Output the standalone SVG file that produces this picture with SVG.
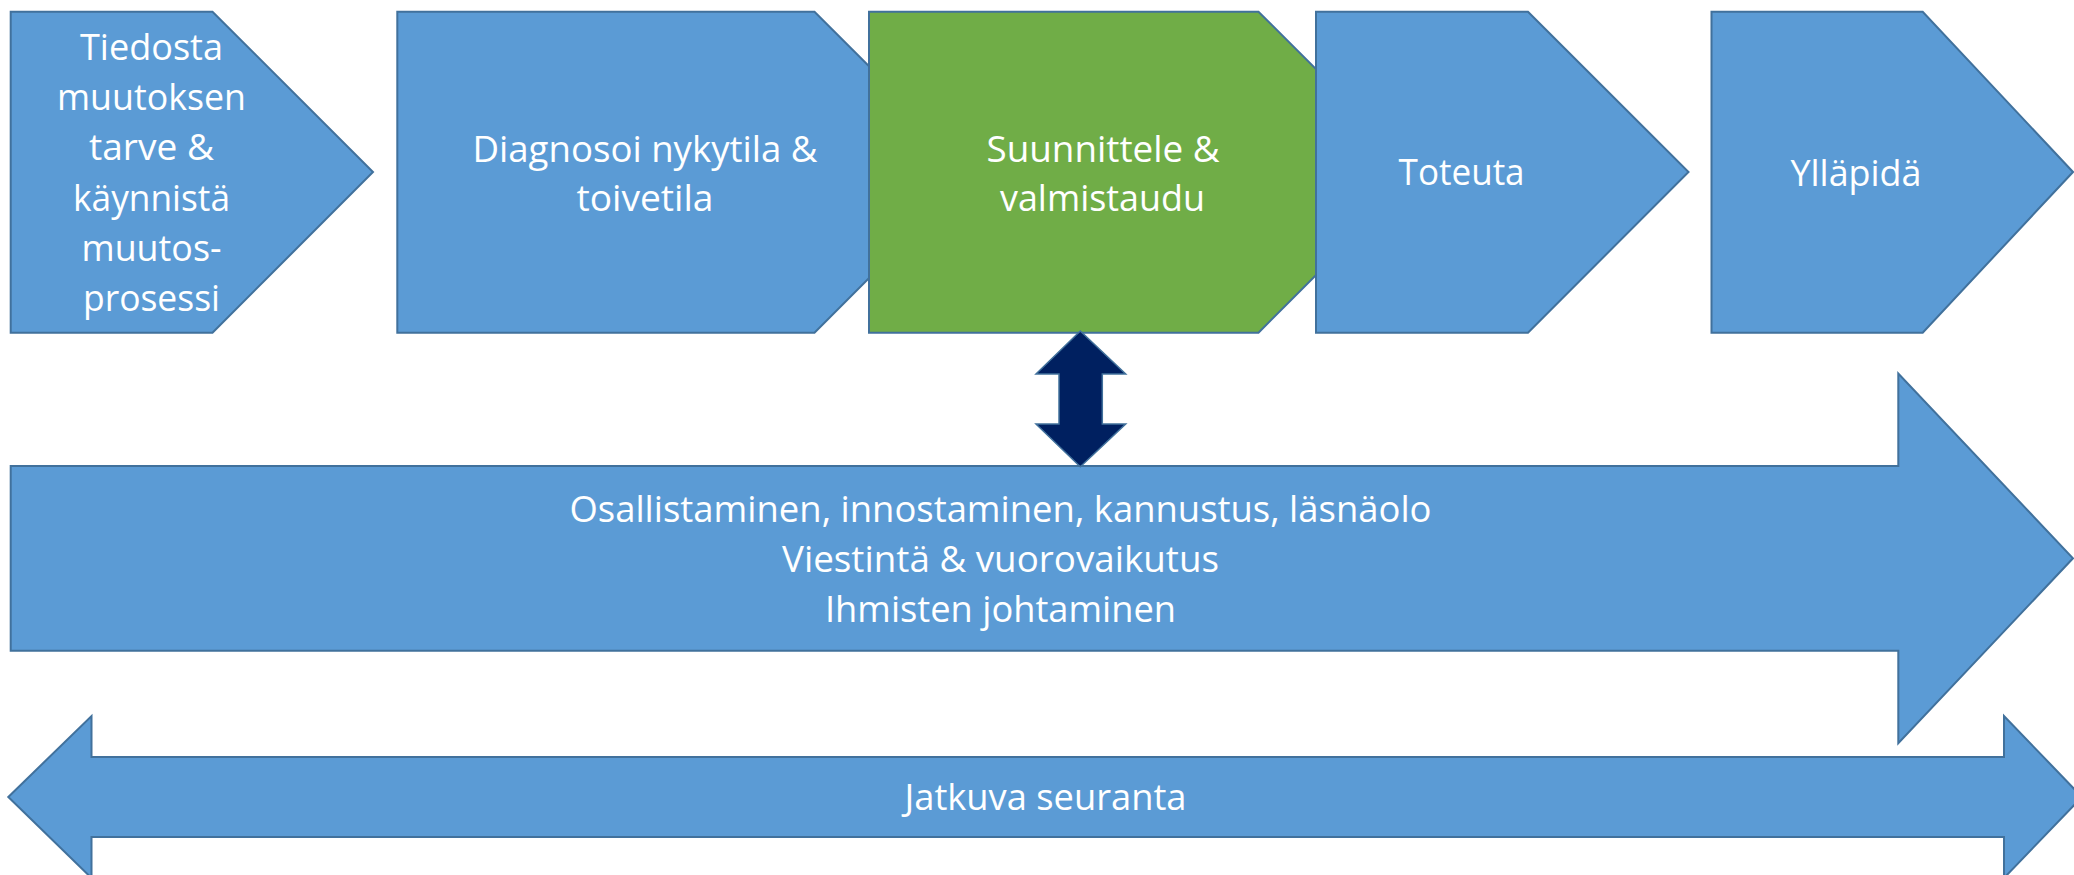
<svg xmlns="http://www.w3.org/2000/svg" width="2074" height="875" viewBox="0 0 2074 875">
<style>
.blue{fill:#5B9BD5;stroke:#41719C;stroke-width:2;stroke-linejoin:miter}
.green{fill:#70AD47;stroke:#41719C;stroke-width:2}
.navy{fill:#002060;stroke:#41719C;stroke-width:1.5}
.t{font-family:"Open Sans","Noto Sans","Liberation Sans",sans-serif;font-size:37px;fill:#FFFFFF;text-anchor:middle}
</style>
<rect x="0" y="0" width="2074" height="875" fill="#FFFFFF"/>
<g id="node-tiedosta">
<polygon class="blue" points="10.7,11.7 212.5,11.7 373,172 212.5,332.7 10.7,332.7"/>
<text class="t" x="151.5" y="60" textLength="143" lengthAdjust="spacingAndGlyphs">Tiedosta</text>
<text class="t" x="151.5" y="110.2" textLength="189" lengthAdjust="spacingAndGlyphs">muutoksen</text>
<text class="t" x="151.5" y="160.4" textLength="125" lengthAdjust="spacingAndGlyphs">tarve &amp;</text>
<text class="t" x="151.5" y="210.6" textLength="157" lengthAdjust="spacingAndGlyphs">käynnistä</text>
<text class="t" x="151.5" y="260.8" textLength="140" lengthAdjust="spacingAndGlyphs">muutos-</text>
<text class="t" x="151.5" y="311" textLength="137" lengthAdjust="spacingAndGlyphs">prosessi</text>
</g>
<g id="node-diagnosoi">
<polygon class="blue" points="397.3,11.7 814.5,11.7 975,172 814.5,332.7 397.3,332.7"/>
<text class="t" x="645" y="161.7" textLength="345" lengthAdjust="spacingAndGlyphs">Diagnosoi nykytila &amp;</text>
<text class="t" x="645" y="210.7" textLength="137" lengthAdjust="spacingAndGlyphs">toivetila</text>
</g>
<g id="node-suunnittele">
<polygon class="green" points="869,11.7 1258.5,11.7 1419,172 1258.5,332.7 869,332.7"/>
<text class="t" x="1103" y="161.7" textLength="233" lengthAdjust="spacingAndGlyphs">Suunnittele &amp;</text>
<text class="t" x="1102.5" y="210.7" textLength="205" lengthAdjust="spacingAndGlyphs">valmistaudu</text>
</g>
<g id="node-toteuta">
<polygon class="blue" points="1316,11.7 1528,11.7 1688.5,172 1528,332.7 1316,332.7"/>
<text class="t" x="1461.6" y="185" textLength="126" lengthAdjust="spacingAndGlyphs">Toteuta</text>
</g>
<g id="node-yllapida">
<polygon class="blue" points="1711.5,11.7 1922.7,11.7 2073,172 1922.7,332.7 1711.5,332.7"/>
<text class="t" x="1856" y="186" textLength="131" lengthAdjust="spacingAndGlyphs">Ylläpidä</text>
</g>
<g id="node-osallistaminen">
<polygon class="blue" points="10.7,466 1898.3,466 1898.3,373.5 2073,558.3 1898.3,743.3 1898.3,650.7 10.7,650.7"/>
<text class="t" x="1000.5" y="521.7" textLength="862" lengthAdjust="spacingAndGlyphs">Osallistaminen, innostaminen, kannustus, läsnäolo</text>
<text class="t" x="1000.5" y="572" textLength="437" lengthAdjust="spacingAndGlyphs">Viestintä &amp; vuorovaikutus</text>
<text class="t" x="1000.5" y="622" textLength="351" lengthAdjust="spacingAndGlyphs">Ihmisten johtaminen</text>
</g>
<g id="node-jatkuva">
<polygon class="blue" points="8.3,797 91.5,716 91.5,757 2004,757 2004,716 2082,797 2004,878 2004,837 91.5,837 91.5,878"/>
<text class="t" x="1045.5" y="810" textLength="282" lengthAdjust="spacingAndGlyphs">Jatkuva seuranta</text>
</g>
<g id="connectors">
<polygon class="navy" points="1080.3,331 1125.7,374 1102.3,374 1102.3,424 1125.7,424 1080.3,466.7 1036,424 1059,424 1059,374 1036,374"/>
</g>
</svg>
